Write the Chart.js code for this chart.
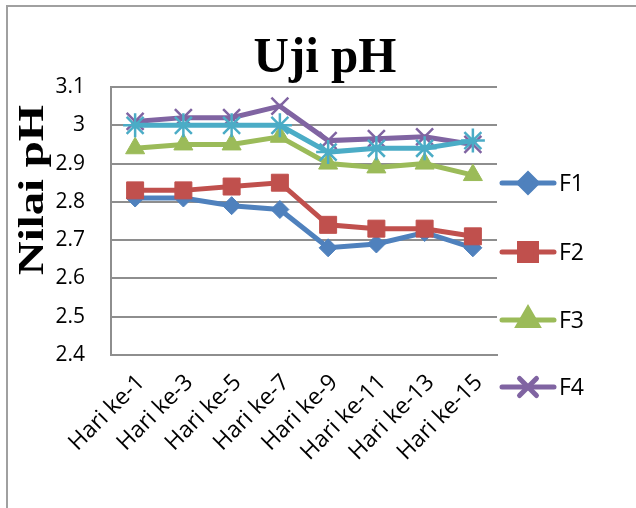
<!DOCTYPE html>
<html>
<head>
<meta charset="utf-8">
<script src="https://cdn.jsdelivr.net/npm/chart.js@4.4.1/dist/chart.umd.min.js"></script>
<style>
    body { margin: 0; background: #ffffff; }
    #wrap { position: relative; width: 636px; height: 508px; }
</style>
</head>
<body>
<div id="wrap"><canvas id="phChart"></canvas></div>
<script>
// data
const days = ['Hari ke-1', 'Hari ke-3', 'Hari ke-5', 'Hari ke-7', 'Hari ke-9', 'Hari ke-11', 'Hari ke-13', 'Hari ke-15'];
const f1 = [2.81, 2.81, 2.79, 2.78, 2.68, 2.69, 2.72, 2.68];
const f2 = [2.83, 2.83, 2.84, 2.85, 2.74, 2.73, 2.73, 2.71];
const f3 = [2.94, 2.95, 2.95, 2.97, 2.90, 2.89, 2.90, 2.87];
const f4 = [3.01, 3.02, 3.02, 3.05, 2.96, 2.965, 2.97, 2.95];
const f5 = [3.00, 3.00, 3.00, 3.00, 2.93, 2.94, 2.94, 2.96];
const seriesNames = ['F1', 'F2', 'F3', 'F4', 'F5'];
const phTicks = [2.4, 2.5, 2.6, 2.7, 2.8, 2.9, 3.0, 3.1];
const chartTitle = 'Uji pH';
const yTitle = 'Nilai pH';

const colors = ['#4F81BD', '#C0504D', '#9BBB59', '#8064A2', '#4BACC6'];
const markers = ['rectRot', 'rect', 'triangle', 'crossRot', 'star'];
const markerSize = [9, 12, 11, 12, 12];
const allSeries = [f1, f2, f3, f4, f5];

const yTickFont = { family: '"Open Sans", sans-serif', size: 21 };
const xTickFont = { family: '"Open Sans", sans-serif', size: 23 };

// title, axis title, frame and legend (legend only shows F1-F4, like the picture)
const decorPlugin = {
    id: 'decor',
    afterDraw(chart) {
        const ctx = chart.ctx;
        ctx.save();

        ctx.strokeStyle = '#a0a0a0';
        ctx.lineWidth = 2;
        ctx.beginPath();
        ctx.moveTo(7, 508);
        ctx.lineTo(7, 6);
        ctx.lineTo(636, 6);
        ctx.stroke();

        ctx.fillStyle = '#000';
        ctx.font = 'bold 51px "Liberation Serif"';
        ctx.textAlign = 'center';
        ctx.textBaseline = 'alphabetic';
        ctx.save();
        ctx.translate(325, 72);
        ctx.scale(0.96, 1);
        ctx.fillText(chartTitle, 0, 0);
        ctx.restore();

        ctx.save();
        ctx.translate(43, 190);
        ctx.rotate(-Math.PI / 2);
        ctx.scale(1.3, 1);
        ctx.font = 'bold 36px "Liberation Serif"';
        ctx.fillText(yTitle, 0, 0);
        ctx.restore();

        const legendY = [183, 252, 320, 387];
        for (let i = 0; i < 4; i++) {
            const y = legendY[i];
            ctx.strokeStyle = colors[i];
            ctx.lineWidth = 5;
            ctx.lineCap = 'round';
            ctx.beginPath();
            ctx.moveTo(502, y);
            ctx.lineTo(554, y);
            ctx.stroke();
            ctx.fillStyle = colors[i];
            Chart.helpers.drawPoint(ctx, {
                pointStyle: markers[i],
                radius: markerSize[i],
                rotation: 0,
                borderWidth: 2.5
            }, 528, y);
            ctx.fillStyle = '#000';
            ctx.font = '23px "Open Sans"';
            ctx.textAlign = 'left';
            ctx.textBaseline = 'middle';
            ctx.fillText(seriesNames[i], 559, y + 1);
        }
        ctx.restore();
    }
};

const ctxPh = document.getElementById('phChart').getContext('2d');
const phChart = new Chart(ctxPh, {
    type: 'line',
    data: {
        labels: days,
        datasets: allSeries.map((vals, i) => ({
            label: seriesNames[i],
            data: vals,
            borderColor: colors[i],
            backgroundColor: colors[i],
            borderWidth: 5,
            pointStyle: markers[i],
            pointRadius: markerSize[i],
            pointHoverRadius: markerSize[i],
            pointBorderWidth: (i >= 3) ? 2.5 : 1,
            pointBackgroundColor: colors[i],
            pointBorderColor: colors[i],
            tension: 0,
            order: 4 - i
        }))
    },
    options: {
        responsive: true,
        maintainAspectRatio: false,
        animation: false,
        layout: { padding: { left: 0, top: 87, right: 139, bottom: 0 } },
        plugins: {
            legend: { display: false },
            title: { display: false },
            tooltip: { enabled: false }
        },
        scales: {
            x: {
                offset: true,
                grid: { display: false },
                border: { display: true, color: '#8e8e8e', width: 2 },
                ticks: {
                    color: '#000',
                    font: xTickFont,
                    minRotation: 45,
                    maxRotation: 45,
                    autoSkip: false,
                    padding: 6,
                    labelOffset: 6
                },
                afterFit: function (scale) { scale.height = 153; }
            },
            y: {
                min: 2.4,
                max: 3.1,
                grid: { color: '#8e8e8e', lineWidth: 2, drawTicks: false },
                border: { display: true, color: '#8e8e8e', width: 2 },
                afterBuildTicks: function (scale) {
                    scale.ticks = phTicks.map(v => ({ value: v }));
                },
                ticks: {
                    color: '#000',
                    font: yTickFont,
                    padding: 26,
                    callback: function (value) { return String(value); }
                },
                afterFit: function (scale) { scale.width = 111; }
            }
        }
    },
    plugins: [decorPlugin]
});
</script>
</body>
</html>
